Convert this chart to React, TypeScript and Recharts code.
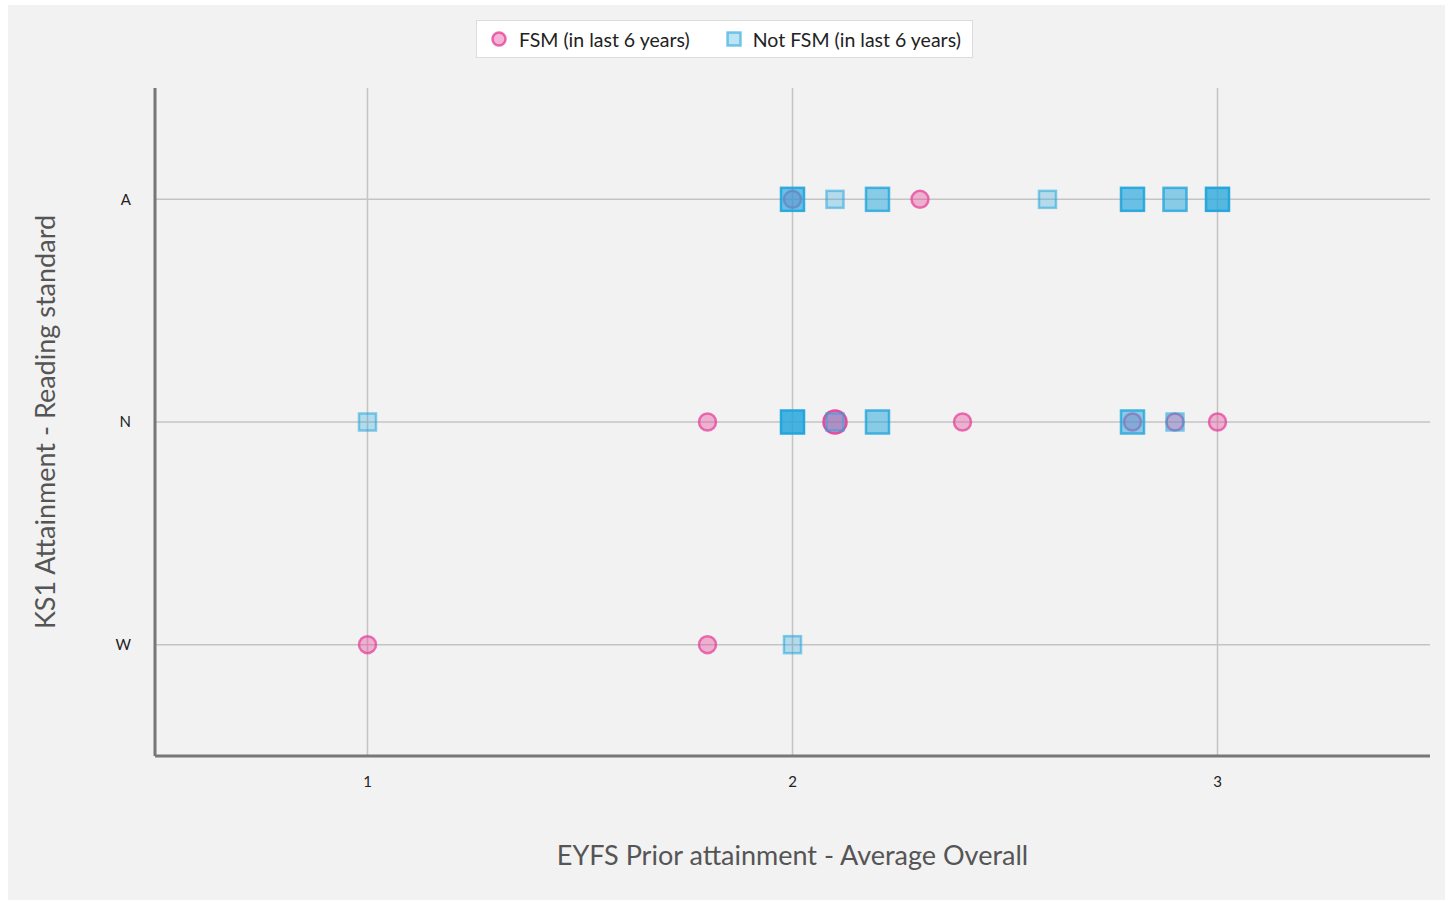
import React from 'react';
import {
    ScatterChart,
    Scatter,
    XAxis,
    YAxis,
    CartesianGrid,
    Label,
} from 'recharts';

// y categories, bottom to top
const levels = ['W', 'N', 'A'];
const xTicks = [1, 2, 3];
const yTicks = [1, 2, 3];

// FSM (in last 6 years): prior attainment, KS1 level, pupils at that point
const fsmX = [2.0, 2.3, 1.8, 2.1, 2.4, 2.8, 2.9, 3.0, 1.0, 1.8];
const fsmY = ['A', 'A', 'N', 'N', 'N', 'N', 'N', 'N', 'W', 'W'];
const fsmN = [1, 1, 1, 2, 1, 1, 1, 1, 1, 1];

// Not FSM (in last 6 years)
const notX = [2.0, 2.1, 2.2, 2.6, 2.8, 2.9, 3.0, 1.0, 2.0, 2.1, 2.2, 2.8, 2.9, 2.0];
const notY = ['A', 'A', 'A', 'A', 'A', 'A', 'A', 'N', 'N', 'N', 'N', 'N', 'N', 'W'];
const notN = [3, 1, 2, 1, 3, 2, 4, 1, 5, 1, 2, 2, 1, 1];

const toRows = (xs: number[], ys: string[], ns: number[]) =>
    xs.map((x, i) => ({ x, y: levels.indexOf(ys[i]) + 1, n: ns[i] }));

const fsmData = toRows(fsmX, fsmY, fsmN);
const notData = toRows(notX, notY, notN);

const stack = (a: number, n: number) => 1 - Math.pow(1 - a, n);

const PINK = '#e6449a';
const BLUE = '#22a5dc';

const CircleShape = (props: any) => {
    const { cx, cy, payload } = props;
    if (cx == null || cy == null) return null;
    const r = payload.n > 1 ? 11.5 : 8.5;
    return (
        <circle
            cx={cx}
            cy={cy}
            r={r}
            fill={PINK}
            fillOpacity={stack(0.38, payload.n)}
            stroke={PINK}
            strokeOpacity={stack(0.75, payload.n)}
            strokeWidth={2.5}
        />
    );
};

const SquareShape = (props: any) => {
    const { cx, cy, payload } = props;
    if (cx == null || cy == null) return null;
    const h = payload.n > 1 ? 11.5 : 8.5;
    return (
        <rect
            x={cx - h}
            y={cy - h}
            width={h * 2}
            height={h * 2}
            fill={BLUE}
            fillOpacity={stack(0.3, payload.n)}
            stroke={BLUE}
            strokeOpacity={stack(0.55, payload.n)}
            strokeWidth={2.5}
        />
    );
};

const LegendBox = () => (
    <div
        style={{
            position: 'absolute',
            top: 15,
            left: 468,
            height: 36,
            display: 'flex',
            alignItems: 'center',
            background: '#fff',
            border: '1px solid #dcdcdc',
            padding: '0 11px 0 13px',
            fontFamily: 'Lato, sans-serif',
            fontSize: 19.5,
            color: '#222',
            whiteSpace: 'nowrap',
        }}
    >
        <svg width={18} height={18} style={{ marginRight: 11 }}>
            <circle cx={9} cy={9} r={6.5} fill={PINK} fillOpacity={0.4} stroke={PINK} strokeOpacity={0.8} strokeWidth={2.5} />
        </svg>
        <span style={{ marginRight: 35 }}>FSM (in last 6 years)</span>
        <svg width={18} height={18} style={{ marginRight: 10 }}>
            <rect x={2.5} y={2.5} width={13} height={13} fill={BLUE} fillOpacity={0.3} stroke={BLUE} strokeOpacity={0.6} strokeWidth={2.5} />
        </svg>
        <span>Not FSM (in last 6 years)</span>
    </div>
);

export default function App() {
    return (
        <div
            style={{
                position: 'absolute',
                left: 8,
                top: 5,
                width: 1437,
                height: 895,
                background: '#f2f2f2',
                fontFamily: 'Lato, sans-serif',
            }}
        >
            <ScatterChart
                width={1437}
                height={895}
                margin={{ top: 83, right: 15, bottom: 40, left: 87 }}
            >
                <CartesianGrid
                    stroke="#c4c4c4"
                    strokeWidth={1.5}
                    horizontalValues={yTicks}
                    verticalValues={xTicks}
                />
                <XAxis
                    type="number"
                    dataKey="x"
                    domain={[0.5, 3.5]}
                    ticks={xTicks}
                    allowDataOverflow
                    tickLine={false}
                    axisLine={{ stroke: '#777', strokeWidth: 3 }}
                    tick={{ fontSize: 15, fill: '#222' }}
                    tickMargin={14}
                    height={104}
                >
                    <Label
                        value="EYFS Prior attainment - Average Overall"
                        position="insideBottom"
                        offset={-5}
                        style={{ fontSize: 27, fill: '#555' }}
                    />
                </XAxis>
                <YAxis
                    type="number"
                    dataKey="y"
                    domain={[0.5, 3.5]}
                    ticks={yTicks}
                    allowDataOverflow
                    tickFormatter={(v: number) => levels[v - 1]}
                    tickLine={false}
                    axisLine={{ stroke: '#777', strokeWidth: 3 }}
                    tick={{ fontSize: 15, fill: '#222' }}
                    tickMargin={18}
                    width={60}
                >
                    <Label
                        value="KS1 Attainment - Reading standard"
                        angle={-90}
                        position="center"
                        dx={-80}
                        style={{ fontSize: 27, fill: '#555', textAnchor: 'middle' }}
                    />
                </YAxis>
                <Scatter name="FSM (in last 6 years)" data={fsmData} shape={CircleShape} isAnimationActive={false} />
                <Scatter name="Not FSM (in last 6 years)" data={notData} shape={SquareShape} isAnimationActive={false} />
            </ScatterChart>
            <LegendBox />
        </div>
    );
}
